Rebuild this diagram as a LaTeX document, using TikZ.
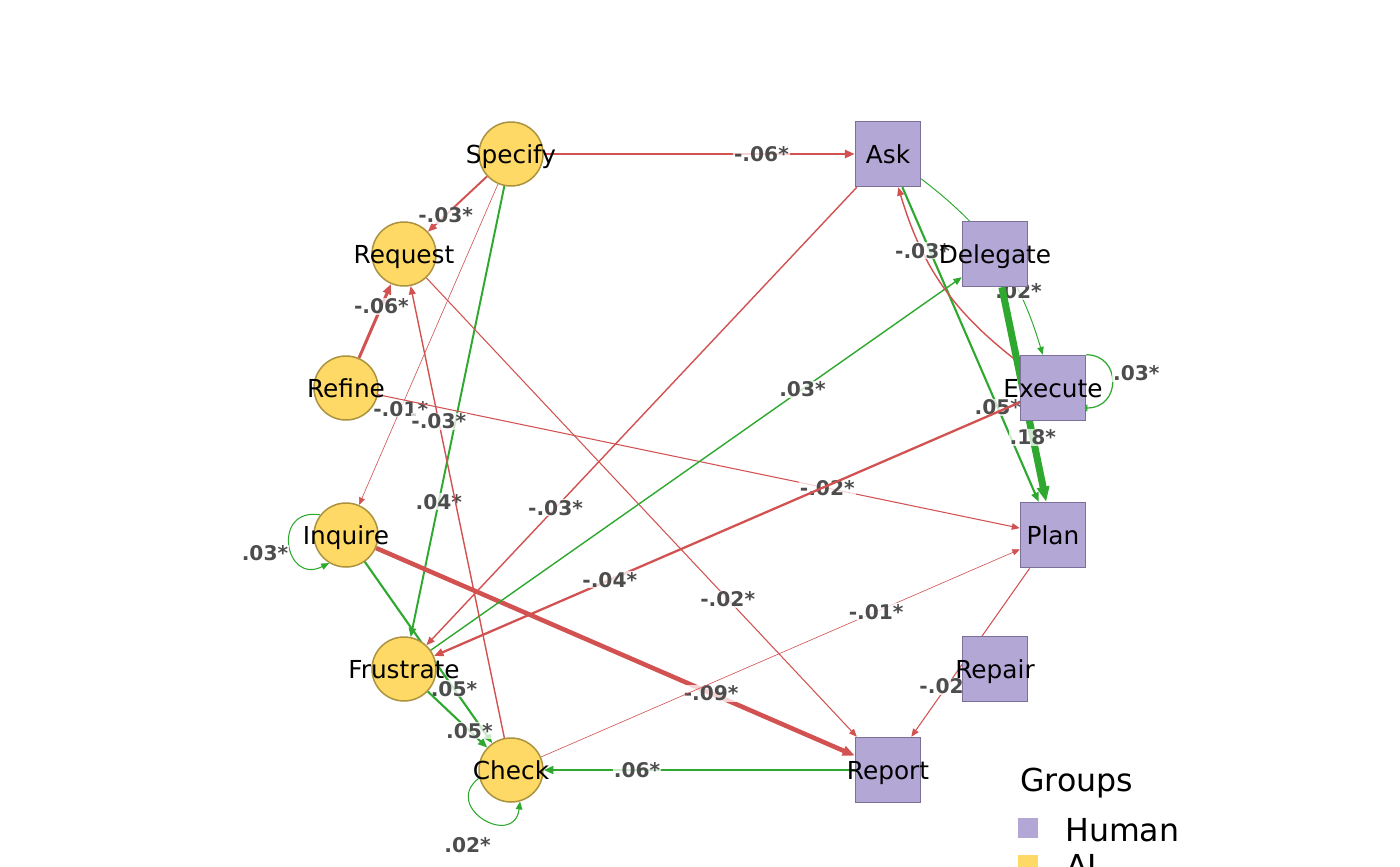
\documentclass[tikz,border=0pt]{standalone}
\usepackage{fontspec}
\setmainfont{DejaVu Sans}
\usepackage{xcolor}
\usepackage{tikz}
\usetikzlibrary{arrows.meta}
\pgfdeclarelayer{background}
\pgfsetlayers{background,main}
\definecolor{aiyellow}{RGB}{255,217,102}
\definecolor{aiborder}{RGB}{170,146,62}
\definecolor{humanpurple}{RGB}{179,167,214}
\definecolor{humanborder}{RGB}{124,112,153}
\definecolor{posgreen}{RGB}{46,168,46}
\definecolor{negred}{RGB}{210,82,82}
\definecolor{lblgray}{RGB}{77,77,77}
\newcommand{\nodename}[1]{\makebox[0pt]{#1}}
\tikzstyle{ai}      = [circle, minimum size=1.28cm, inner sep=0pt, text height=10.3pt, text depth=0pt, draw=aiborder, line width=0.85pt, fill=aiyellow, font=\fontsize{14.1}{16}\selectfont]
\tikzstyle{human}   = [rectangle, minimum size=1.3cm, inner sep=0pt, text height=10.3pt, text depth=0pt, draw=humanborder, line width=0.85pt, fill=humanpurple, font=\fontsize{14.1}{16}\selectfont]
\tikzstyle{edge}    = [-{Triangle[length=3.8pt 1.2, width=3.2pt 0.9]}]
\tikzstyle{posedge} = [edge, draw=posgreen]
\tikzstyle{negedge} = [edge, draw=negred]
\tikzstyle{wlabel}  = [pos=0.7, font=\bfseries\fontsize{11.5}{13}\selectfont, text=lblgray, fill=white, fill opacity=0.75, text opacity=1, inner sep=0.5pt]
\tikzstyle{legendtxt} = [anchor=base west, inner sep=0pt, font=\fontsize{18}{20}\selectfont]

\begin{document}
\begin{tikzpicture}[x=0.02cm, y=-0.02cm]
    \useasboundingbox (0,0) rectangle (1400,866);
    \clip (0,0) rectangle (1400,866);

    % AI codes
    \node (spec)   [ai] at (511,154) {\nodename{Specify}};
    \node (req)    [ai] at (404,254) {\nodename{Request}};
    \node (ref)    [ai] at (346,388) {\nodename{Refine}};
    \node (inq)    [ai] at (346,535) {\nodename{Inquire}};
    \node (frus)   [ai] at (404,669) {\nodename{Frustrate}};
    \node (chk)    [ai] at (511,770) {\nodename{Check}};

    % human codes
    \node (ask)    [human] at (888,154)  {\nodename{Ask}};
    \node (del)    [human] at (995,254)  {\nodename{Delegate}};
    \node (exec)   [human] at (1053,388) {\nodename{Execute}};
    \node (plan)   [human] at (1053,535) {\nodename{Plan}};
    \node (rep)    [human] at (995,669)  {\nodename{Repair}};
    \node (report) [human] at (888,770)  {\nodename{Report}};

    % legend
    \node (grouptitle) [legendtxt] at (1020,791) {Groups};
    \node (humankey) [fill=humanpurple, minimum size=0.4cm, inner sep=0pt] at (1028,828) {};
    \node (humantxt) [legendtxt] at (1065,841) {Human};
    \node (aikey) [fill=aiyellow, minimum size=0.4cm, inner sep=0pt] at (1028,865) {};
    \node (aitxt) [legendtxt] at (1066,877) {AI};

    \begin{pgfonlayer}{background}
      \fill [white] (0,0) rectangle (1400,866);

      % arrows
      \draw [negedge, line width=1.5pt]  (spec) -- node (w1) [wlabel] {-.06*} (ask);
      \draw [negedge, line width=1.1pt]  (spec) -- node (w2) [wlabel] {-.03*} (req);
      \draw [negedge, line width=0.35pt] (spec) -- node (w3) [wlabel] {-.01*} (inq);
      \draw [posedge, line width=1.1pt]  (spec) -- node (w4) [wlabel] {.04*} (frus);
      \draw [negedge, line width=0.6pt]  (req) -- node (w5) [wlabel] {-.02*} (report);
      \draw [negedge, line width=1.7pt]  (ref) -- node (w6) [wlabel] {-.06*} (req);
      \draw [negedge, line width=0.6pt]  (ref) -- node (w7) [wlabel] {-.02*} (plan);
      \draw [posedge, line width=0.6pt]  (inq.142) to [out=171, in=207, looseness=2.6] node (w8) [wlabel, pos=0.5, anchor=north east] {.03*} (inq.239);
      \draw [posedge, line width=1.2pt]  (inq) -- node (w9) [wlabel] {.05*} (chk);
      \draw [negedge, line width=2.6pt]  (inq) -- node (w10) [wlabel] {-.09*} (report);
      \draw [posedge, line width=1.2pt]  (frus) -- node (w11) [wlabel] {.05*} (chk);
      \draw [posedge, line width=0.8pt]  (frus) -- node (w12) [wlabel] {.03*} (del);
      \draw [negedge, line width=0.8pt]  (chk) -- node (w13) [wlabel] {-.03*} (req);
      \draw [negedge, line width=0.35pt] (chk) -- node (w14) [wlabel] {-.01*} (plan);
      \draw [posedge, line width=0.6pt]  (chk.194) to [out=217, in=263, looseness=2.6] node (w15) [wlabel, pos=0.6, anchor=north east, yshift=-8] {.02*} (chk.286);
      \draw [posedge, line width=1.4pt]  (report) -- node (w16) [wlabel] {.06*} (chk);
      \draw [negedge, line width=0.8pt]  (ask) -- node (w17) [wlabel] {-.03*} (frus);
      \draw [posedge, line width=1.2pt]  (ask) -- node (w18) [wlabel] {.05*} (plan);
      \draw [posedge, line width=0.55pt] (ask) to [bend left=18] node (w19) [wlabel] {.02*} (exec);
      \draw [negedge, line width=0.8pt]  (exec) to [bend left=18] node (w20) [wlabel] {-.03*} (ask);
      \draw [negedge, line width=1.3pt]  (exec) -- node (w21) [wlabel] {-.04*} (frus);
      \draw [posedge, line width=0.7pt, shorten >=-4pt] (exec.45) to [out=0, in=0, looseness=1.7] node (w22) [wlabel, pos=0.4, anchor=west] {.03*} (exec.-31);
      \draw [posedge, line width=4pt]    (del) -- node (w23) [wlabel] {.18*} (plan);
      \draw [negedge, line width=0.6pt]  (plan) -- node (w24) [wlabel] {-.02*} (report);
    \end{pgfonlayer}

  \end{tikzpicture}
\end{document}
